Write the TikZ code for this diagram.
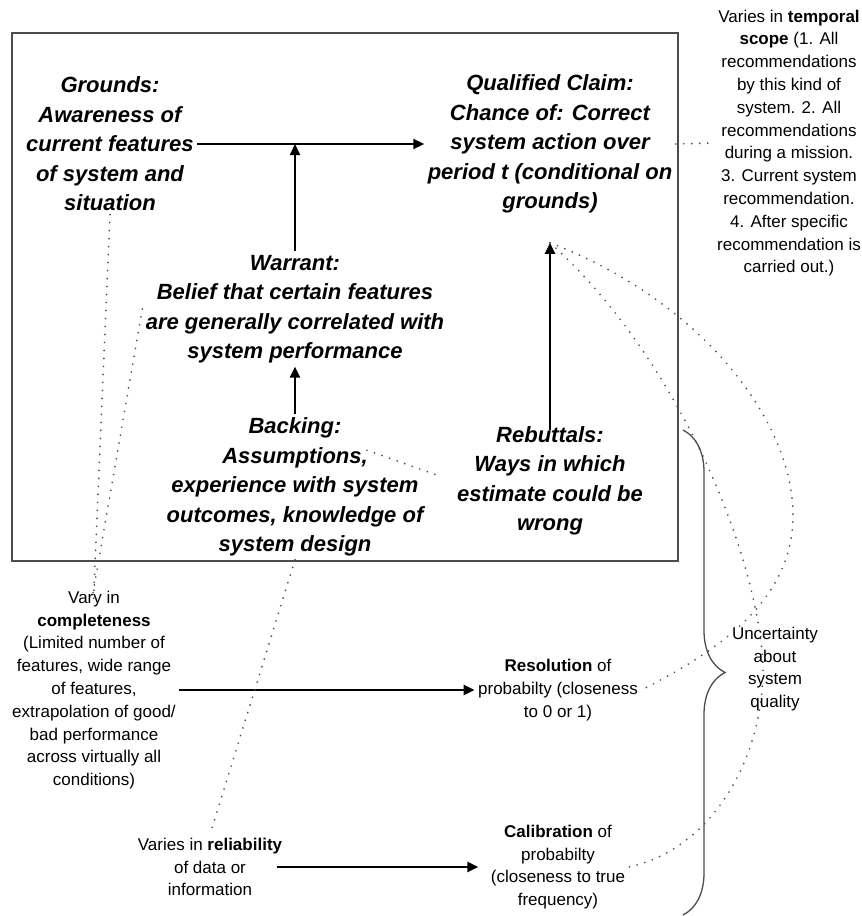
\documentclass[tikz,border=0pt]{standalone}
\usepackage{fontspec}
\setmainfont{Liberation Sans}
\usetikzlibrary{positioning,arrows.meta,calc,decorations.pathreplacing}

\begin{document}
\begin{tikzpicture}[x=1pt, y=-1pt,
    part/.style={align=center, font=\fontsize{22}{29.5}\selectfont\bfseries\itshape},
    note/.style={align=center, font=\fontsize{17}{22.8}\selectfont},
    flow/.style={line width=2.2pt, -{Triangle[length=11pt,width=10pt]}},
    link/.style={draw=black!70, line width=1.9pt, line cap=round, dash pattern=on 0pt off 8pt}]
  \useasboundingbox (0,0) rectangle (862,916);
  \draw[gray!60!black, line width=1.6pt] (12,33) rectangle (678,561);

  % the argument inside the frame
  \node[part] (grounds) at (110,144) {Grounds:\\Awareness of\\current features\\of system and\\situation};
  \node[part] (claim) at (550,144) {Qualified Claim:\\Chance of: Correct\\system action over\\period t (conditional on\\grounds)};
  \node[part] (warrant) at (295,309) {Warrant:\\Belief that certain features\\are generally correlated with\\system performance};
  \node[part] (backing) at (295,487) {Backing:\\Assumptions,\\experience with system\\outcomes, knowledge of\\system design};
  \node[part] (rebut) at (550,481) {Rebuttals:\\Ways in which\\estimate could be\\wrong};
  \coordinate (tip) at ($(claim.south)+(0,26)$);

  % notes outside
  \node[note] (temporal) at (789,143) {Varies in \textbf{temporal}\\\textbf{scope} (1. All\\recommendations\\by this kind of\\system. 2. All\\recommendations\\during a mission.\\3. Current system\\recommendation.\\4. After specific\\recommendation is\\carried out.)};
  \node[note] (complete) at (94,690) {Vary in\\\textbf{completeness}\\(Limited number of\\features, wide range\\of features,\\extrapolation of good/\\bad performance\\across virtually all\\conditions)};
  \node[note] (reliab) at (210,867) {Varies in \textbf{reliability}\\of data or\\information};
  \node[note] (resol) at (558,690) {\textbf{Resolution} of\\probabilty (closeness\\to 0 or 1)};
  \node[note] (calib) at (558,867) {\textbf{Calibration} of\\probabilty\\(closeness to true\\frequency)};
  \node[note] (uncert) at (775,669) {Uncertainty\\about\\system\\quality};

  % arrows
  \draw[flow] (grounds.east) -- (claim.west);
  \draw[flow] (warrant.north) -- (warrant.north |- grounds.east);
  \draw[flow] (backing.north) -- (warrant.south);
  \draw[flow, shorten <=-7pt] (rebut.north) -- (tip);
  \draw[flow] (complete.east) -- (resol.west);
  \draw[flow, shorten <=-9pt, shorten >=9pt] (reliab.east) -- (calib.west);

  % dotted links
  \draw[link, shorten >=-13pt] (grounds.south) -- (complete.north);
  \draw[link, shorten >=-13pt] (warrant.west) -- (complete.north);
  \draw[link, shorten >=12pt] ($(backing.north)+(72,36)$) -- (rebut.west);
  \draw[link] (backing.south) -- (reliab.north);
  \draw[link] (claim.east) -- (temporal.west);
  \draw[link] (tip) .. controls (670,350) and (755,540) .. ($(uncert.center)+(-12,-6)$)
    .. controls (765,760) and (710,850) .. (calib.east);
  \draw[link] (tip) .. controls (700,300) and (793,420) .. (793,515)
    .. controls (793,600) and (720,650) .. (resol.east);

  % brace
  \coordinate (bracetop) at (683,430);
  \coordinate (bracebot) at (683,915);
  \draw[gray!60!black, line width=1.3pt, decorate, decoration={brace, amplitude=42pt}] (bracetop) -- (bracebot);
\end{tikzpicture}
\end{document}
